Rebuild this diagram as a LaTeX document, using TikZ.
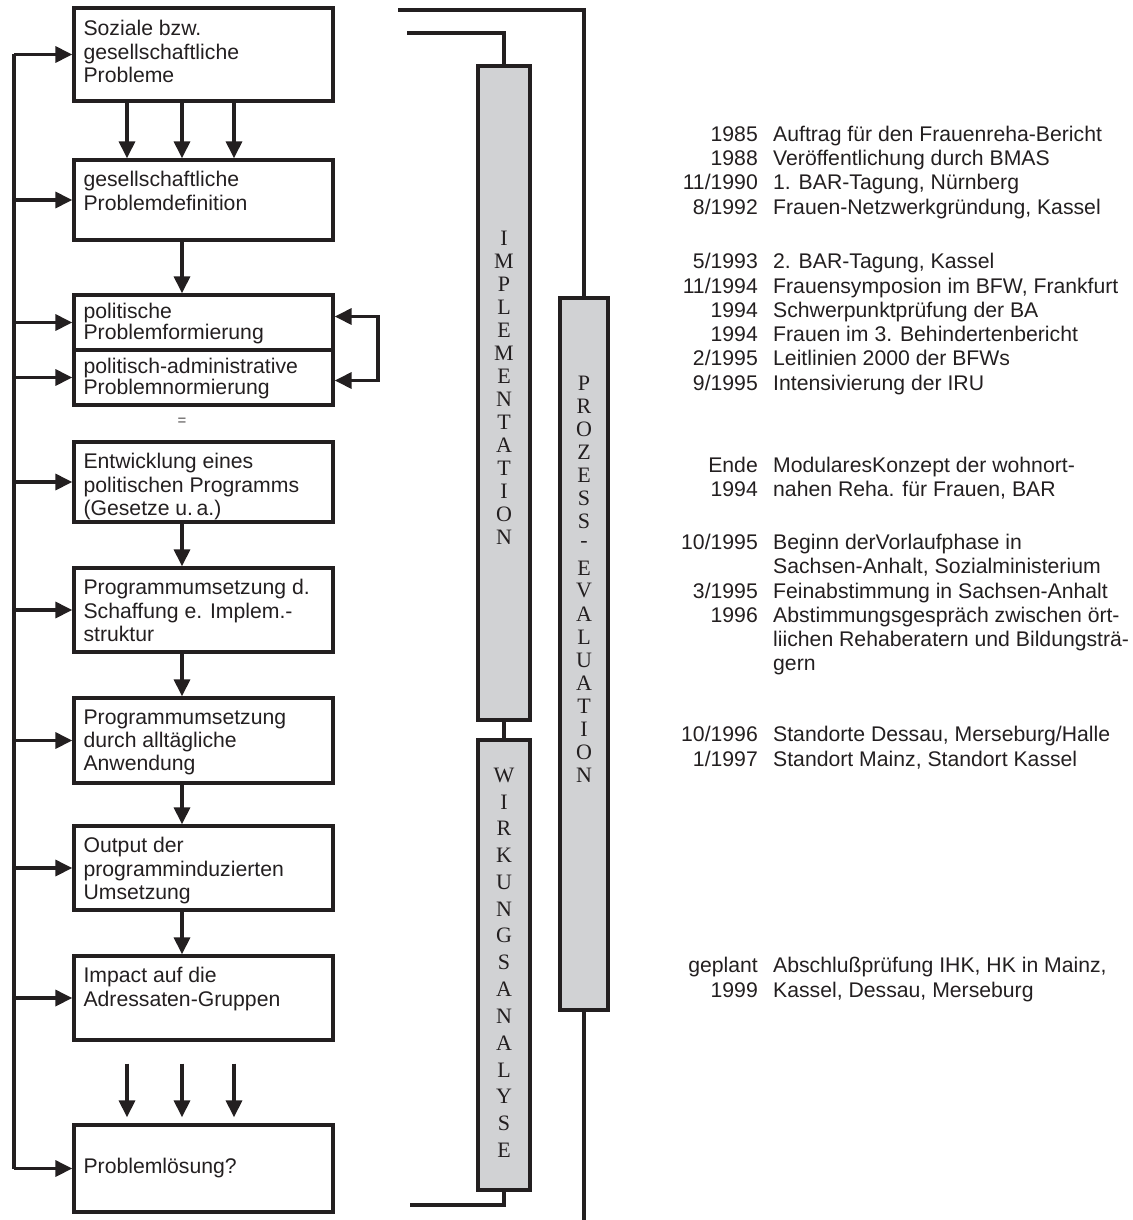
\documentclass[tikz,border=0pt]{standalone}
\usepackage{fontspec}
\setmainfont{Liberation Sans}
\newfontfamily\barfont{Liberation Serif}
\usetikzlibrary{arrows.meta, positioning, calc}

\definecolor{ink}{HTML}{231F20}
\definecolor{bargray}{HTML}{D1D2D4}

\begin{document}
\begin{tikzpicture}[
    x=1pt, y=-1pt,
    box/.style={draw=ink, line width=3.3pt, minimum width=259pt, inner sep=0pt},
    txt/.style={anchor=north west, align=left, inner sep=0pt, text=ink,
                font=\fontsize{21.2}{23.2}\selectfont},
    tight/.style={font=\fontsize{21.2}{20.5}\selectfont},
    bar/.style={draw=ink, fill=bargray, line width=3.8pt, inner sep=0pt},
    ltr/.style={inner sep=0pt, text=ink, font=\barfont\fontsize{22}{22}\selectfont},
    link/.style={draw=ink, line width=3.3pt},
    arr/.style={link, -{Triangle[length=17pt, width=16pt]}},
    dat/.style={anchor=base east, inner sep=0pt, text=ink,
                font=\fontsize{21.2}{23}\selectfont},
    evt/.style={anchor=base west, inner sep=0pt, text=ink,
                font=\fontsize{21.2}{23}\selectfont},
  ]
  \useasboundingbox (0,0) rectangle (1132,1220);

  % Phases of the policy cycle
  \node[box, minimum height=93pt] (b1)  at (203.5, 54.5) {};
  \node[box, minimum height=80pt] (b2)  at (203.5, 200) {};
  \node[box, minimum height=55pt] (b3)  at (203.5, 322.5) {};
  \node[box, minimum height=55pt] (b4)  at (203.5, 377.5) {};
  \node[box, minimum height=80pt] (b5)  at (203.5, 482) {};
  \node[box, minimum height=84pt] (b6)  at (203.5, 610) {};
  \node[box, minimum height=85pt] (b7)  at (203.5, 740.5) {};
  \node[box, minimum height=84pt] (b8)  at (203.5, 868) {};
  \node[box, minimum height=84pt] (b9)  at (203.5, 998) {};
  \node[box, minimum height=87pt] (b10) at (203.5, 1168.5) {};

  \node[txt] (t1) at ($(b1.north west)+(11,14)$)
    {Soziale bzw.\\gesellschaftliche\\Probleme};
  \node[txt] (t2) at ($(b2.north west)+(11,13)$)
    {gesellschaftliche\\Problemdefinition};
  \node[txt, tight] (t3) at ($(b3.north west)+(11,10)$)
    {politische\\Problemformierung};
  \node[txt, tight] (t4) at ($(b4.north west)+(11,10)$)
    {politisch-administrative\\Problemnormierung};
  \node[txt] (t5) at ($(b5.north west)+(11,13)$)
    {Entwicklung eines\\politischen Programms\\(Gesetze u.\,a.)};
  \node[txt] (t6) at ($(b6.north west)+(11,13)$)
    {Programmumsetzung d.\\Schaffung e. Implem.-\\struktur};
  \node[txt] (t7) at ($(b7.north west)+(11,13)$)
    {Programmumsetzung\\durch alltägliche\\Anwendung};
  \node[txt] (t8) at ($(b8.north west)+(11,13)$)
    {Output der\\programminduzierten\\Umsetzung};
  \node[txt] (t9) at ($(b9.north west)+(11,13)$)
    {Impact auf die\\Adressaten-Gruppen};
  \node[txt, anchor=west] (t10) at ($(b10.west)+(11,0)$) {Problemlösung?};
  \node[text=ink!80, inner sep=0pt, font=\fontsize{15}{15}\selectfont] (eq)
    at (182, 422) {=};

  % Downward arrows
  \foreach \dx in {-76.5, -21.5, 30.5}
    \draw[arr] ($(b1.south)+(\dx,0)$) -- ($(b2.north)+(\dx,0)$);
  \draw[arr] ($(b2.south)+(-21.5,0)$) -- ($(b3.north)+(-21.5,0)$);
  \foreach \a/\b in {b5/b6, b6/b7, b7/b8, b8/b9}
    \draw[arr] ($(\a.south)+(-21.5,0)$) -- ($(\b.north)+(-21.5,0)$);
  \foreach \dx in {-76.5, -21.5, 30.5}
    \draw[arr] ($(b9.south)+(\dx,22)$) -- ($(b10.north)+(\dx,-6)$);

  % Feedback line on the left
  \coordinate (fb) at (14,0);
  \draw[link] (fb |- b1.west) -- (fb |- b10.west);
  \foreach \n in {b1,b2,b3,b4,b5,b6,b7,b8,b9,b10}
    \draw[arr] (fb |- \n.west) -- (\n.west);

  % Loop between formation and normation
  \coordinate (lp) at (378,0);
  \draw[arr, {Triangle[length=17pt, width=16pt]}-{Triangle[length=17pt, width=16pt]}]
    ($(b3.east)+(0,-6)$) -- (lp |- {$(b3.east)+(0,-6)$}) --
    (lp |- {$(b4.east)+(0,3)$}) -- ($(b4.east)+(0,3)$);

  % Evaluation bars
  \node[bar, minimum width=52pt, minimum height=654pt] (impl) at (504, 393) {};
  \node[bar, minimum width=52pt, minimum height=450pt] (wirk) at (504, 965) {};
  \node[bar, minimum width=48pt, minimum height=712pt] (proz) at (584, 654) {};

  \foreach \l [count=\i from 0] in {I,M,P,L,E,M,E,N,T,A,T,I,O,N}
    \node[ltr] (im\i) at (504, 238+23*\i) {\l};
  \foreach \l [count=\i from 0] in {P,R,O,Z,E,S,S,-,E,V,A,L,U,A,T,I,O,N}
    \node[ltr] (pr\i) at (584, 383+23.1*\i) {\l};
  \foreach \l [count=\i from 0] in {W,I,R,K,U,N,G,S,A,N,A,L,Y,S,E}
    \node[ltr] (wi\i) at (504, 775+26.8*\i) {\l};

  \coordinate (tl) at (407,33);
  \coordinate (to) at (398,10);
  \coordinate (bl) at (410,1205);
  \coordinate (pb) at (584,1220);
  \draw[link] (tl) -| (impl.north);
  \draw[link] (to) -| (proz.north);
  \draw[link] (impl.south) -- (wirk.north);
  \draw[link] (wirk.south) |- (bl);
  \draw[link] (proz.south) -- (pb);

  % Timeline
  \foreach \y/\d/\e [count=\i] in {
      141/1985/Auftrag für den Frauenreha-Bericht,
      165/1988/Veröffentlichung durch BMAS,
      189/11\slash 1990/{1. BAR-Tagung, Nürnberg},
      214/8\slash 1992/{Frauen-Netzwerkgründung, Kassel},
      268/5\slash 1993/{2. BAR-Tagung, Kassel},
      293/11\slash 1994/{Frauensymposion im BFW, Frankfurt},
      317/1994/Schwerpunktprüfung der BA,
      341/1994/Frauen im 3. Behindertenbericht,
      365/2\slash 1995/Leitlinien 2000 der BFWs,
      390/9\slash 1995/Intensivierung der IRU,
      472/Ende/ModularesKonzept der wohnort-,
      496/1994/{nahen Reha. für Frauen, BAR},
      549/10\slash 1995/Beginn derVorlaufphase in,
      573//{Sachsen-Anhalt, Sozialministerium},
      598/3\slash 1995/Feinabstimmung in Sachsen-Anhalt,
      622/1996/Abstimmungsgespräch zwischen ört-,
      646//liichen Rehaberatern und Bildungsträ-,
      670//gern,
      741/10\slash 1996/{Standorte Dessau, Merseburg/Halle},
      766/1\slash 1997/{Standort Mainz, Standort Kassel},
      972/geplant/{Abschlußprüfung IHK, HK in Mainz,},
      997/1999/{Kassel, Dessau, Merseburg}} {
    \node[dat] (d\i) at (758, \y) {\d};
    \node[evt] (e\i) at (773, \y) {\e};
  }
\end{tikzpicture}
\end{document}
